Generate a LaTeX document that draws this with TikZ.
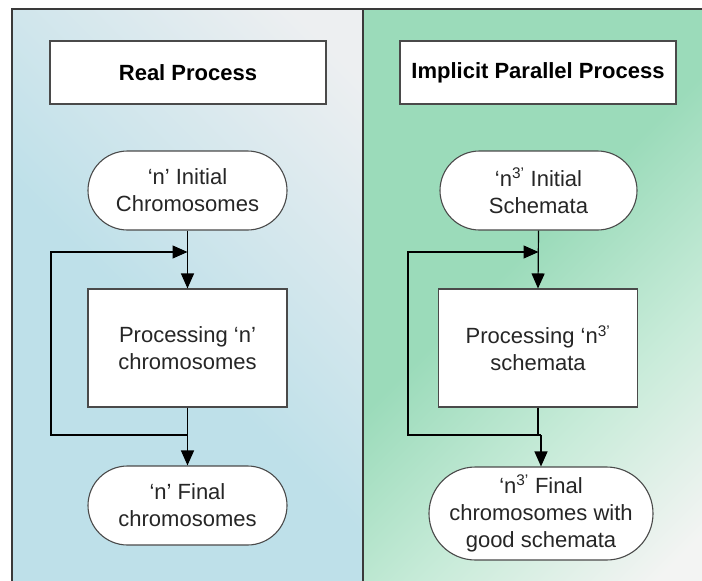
\documentclass[tikz,border=0pt]{standalone}
\usepackage{fontspec}
\setmainfont{Liberation Sans}
\usetikzlibrary{arrows.meta,shapes.misc}

\definecolor{blL}{HTML}{BEE0E9}
\definecolor{gyL}{HTML}{EDEFF1}
\definecolor{grR}{HTML}{9BDBBA}
\definecolor{wtR}{HTML}{F3F4F3}
\definecolor{frameC}{HTML}{3A3A3A}
\definecolor{boxC}{HTML}{4A4A4A}

% panel backgrounds
\pgfdeclareverticalshading{leftpanel}{100bp}{color(0bp)=(blL); color(45bp)=(blL); color(80bp)=(gyL); color(100bp)=(gyL)}
\pgfdeclareverticalshading{rightpanel}{100bp}{color(0bp)=(wtR); color(18bp)=(wtR); color(36bp)=(grR!55!white); color(54bp)=(grR); color(100bp)=(grR)}

\tikzset{
  lbl/.style={font=\fontsize{22}{27}\selectfont, align=center, text=black!85},
  titlebox/.style={draw=boxC, line width=1.1pt, fill=white, minimum width=276pt, minimum height=63pt, inner sep=0pt, font=\fontsize{22}{27}\selectfont\bfseries},
  procbox/.style={lbl, draw=boxC, line width=1.1pt, fill=white, minimum width=199pt, minimum height=118pt, inner sep=0pt},
  termbox/.style={lbl, rounded rectangle, draw=boxC, line width=1.1pt, fill=white, minimum width=199pt, minimum height=79pt, inner sep=0pt},
  arr/.style={draw=black, line width=1.2pt, -{Triangle[length=15pt,width=13pt]}},
  link/.style={draw=black, line width=1.2pt},
}

\begin{document}
\begin{tikzpicture}[x=1pt,y=-1pt]
\useasboundingbox (0,0) rectangle (702,581);

% backgrounds
\shade[shading=leftpanel, shading angle=-45] (12,9) rectangle (363,581);
\shade[shading=rightpanel, shading angle=45] (363,9) rectangle (702,581);
\draw[frameC, line width=1.3pt] (12,581) -- (12,9) -- (702,9);
\draw[frameC, line width=1.3pt] (363,9) -- (363,581);

% ---- left column
\node[titlebox] (tL) at (188,72.5) {Real Process};
\node[termbox] (iL) at (187.5,190.5) {‘n’ Initial\\Chromosomes};
\node[procbox] (pL) at (187.5,348) {Processing ‘n’\\chromosomes};
\node[termbox] (fL) at (187.5,505.5) {‘n’ Final\\chromosomes};
\coordinate (mL) at (187.5,252);
\coordinate (jL) at (187.5,435);
\coordinate (aL) at (51,435);
\coordinate (bL) at (51,252);

\draw[arr] (iL.south) -- (pL.north);
\draw[arr] (pL.south) -- (fL.north);
\draw[arr] (jL) -- (aL) -- (bL) -- (mL);

% ---- right column
\node[titlebox] (tR) at (538,72.5) {Implicit Parallel Process};
\node[termbox, minimum width=197pt] (iR) at (538.5,190.5) {‘n\textsuperscript{3’} Initial\\Schemata};
\node[procbox] (pR) at (538,348) {Processing ‘n\textsuperscript{3’}\\schemata};
\node[termbox, minimum width=216pt, minimum height=93pt] (fR) at (541,513.5) {‘n\textsuperscript{3’} Final\\chromosomes with\\good schemata};
\coordinate (mR) at (538.5,252);
\coordinate (jR) at (538,435);
\coordinate (aR) at (408,435);
\coordinate (bR) at (408,252);

\draw[arr] (iR.south) -- (pR.north);
\draw[link] (pR.south) -- (jR) -- (jR -| fR.north);
\draw[arr] (jR -| fR.north) -- (fR.north);
\draw[arr] (jR) -- (aR) -- (bR) -- (mR);
\end{tikzpicture}
\end{document}
